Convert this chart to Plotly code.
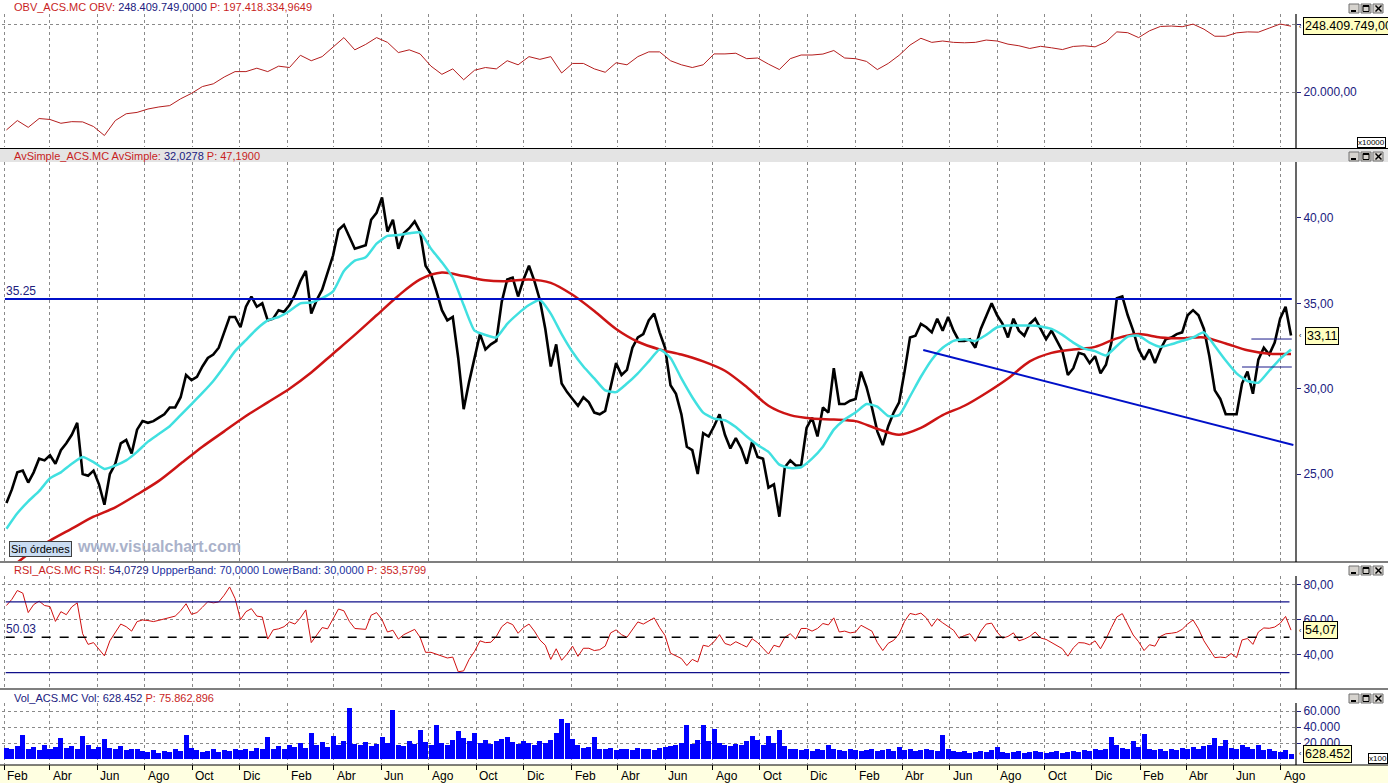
import pandas as pd
import plotly.graph_objects as go

W, H = 1388, 783
FONT = "Liberation Sans, Arial, sans-serif"
NAVY = "#20207e"
RED_TXT = "#c81e1e"

# ---------------- data (weekly sessions) ----------------
START = "2005-02-04"   # first weekly session shown (year not visible on the chart)

CLOSE = [
    23.3, 24.1, 25.1, 25.2, 24.5, 25.1, 25.9, 25.8, 26.1, 25.6,
    26.4, 26.8, 27.3, 28.0, 25.0, 24.9, 25.2, 24.4, 23.2, 25.0,
    25.6, 26.8, 27.0, 26.2, 27.6, 28.1, 28.0, 28.1, 28.3, 28.5,
    28.9, 28.9, 29.5, 30.8, 30.5, 30.7, 31.3, 31.8, 32.0, 32.4,
    33.3, 34.2, 34.2, 33.6, 34.8, 35.4, 34.8, 35.0, 34.0, 34.1,
    34.6, 34.5, 34.9, 35.5, 36.3, 36.9, 34.4, 35.2, 35.8, 36.8,
    37.8, 39.3, 39.6, 38.9, 38.2, 38.3, 38.4, 39.9, 40.3, 41.2,
    39.2, 39.9, 38.2, 39.1, 39.4, 39.8, 39.2, 37.2, 36.7, 35.7,
    34.6, 34.0, 34.2, 31.8, 28.8, 30.4, 31.9, 33.2, 32.3, 32.6,
    32.8, 35.1, 36.4, 36.5, 35.4, 36.4, 37.2, 36.3, 35.2, 33.5,
    31.3, 32.6, 30.3, 29.8, 29.4, 29.0, 29.5, 29.2, 28.6, 28.5,
    28.7, 30.1, 31.5, 30.8, 31.1, 32.4, 33.0, 33.2, 34.0, 34.4,
    33.3, 32.4, 30.2, 29.7, 28.5, 26.6, 26.4, 25.0, 27.4, 27.2,
    27.8, 28.5, 27.3, 26.5, 27.1, 26.5, 25.6, 26.9, 26.0, 25.9,
    24.2, 24.4, 22.5, 25.4, 25.8, 25.5, 25.5, 27.7, 28.3, 27.2,
    28.9, 28.6, 31.2, 29.1, 29.1, 29.3, 29.4, 31.0, 30.1, 28.9,
    27.5, 26.7, 27.8, 28.6, 29.2, 31.0, 33.0, 33.1, 33.8, 33.6,
    33.3, 34.1, 33.4, 34.2, 33.4, 32.8, 32.8, 32.9, 32.4, 33.5,
    34.3, 35.0, 34.3, 33.8, 33.0, 34.1, 33.4, 33.1, 33.8, 34.1,
    33.5, 32.9, 33.4, 32.8, 32.2, 30.8, 31.2, 32.1, 32.0, 31.5,
    31.9, 30.9, 31.4, 32.7, 35.3, 35.4, 34.3, 33.4, 32.3, 31.7,
    32.3, 31.5, 32.3, 32.9, 33.0, 33.2, 33.3, 34.3, 34.6, 34.3,
    33.5, 31.9, 29.9, 29.4, 28.5, 28.5, 28.5, 30.3, 31.0, 29.7,
    31.7, 32.4, 32.0, 32.7, 34.1, 34.8, 33.11,
]

RSI = [
    68, 71.5, 76.5, 75, 64, 68.5, 70.5, 68, 67.4, 59,
    64.5, 62.8, 67.2, 69.5, 52, 46, 47, 43, 39.5, 48,
    52.5, 57.5, 56, 53.5, 58.9, 59.8, 59.5, 58.9, 59.6, 60.3,
    61, 62, 65, 69, 63, 64, 67, 70.2, 69.5, 70,
    73.8, 78.5, 72, 60, 64.5, 66.2, 62, 61.5, 49, 54.2,
    54.8, 56, 58.7, 57.5, 61, 65.5, 47, 51.5, 55.5, 54.8,
    60.8, 66, 65, 59, 55, 54.8, 54.5, 62.5, 64, 60,
    53, 54, 49, 51.5, 53, 54.5, 50, 41.5, 41.5, 40.5,
    39.2, 38.3, 38.8, 30.5, 31, 37.5, 42, 48, 47, 47.2,
    50.5, 56, 58.5, 57.2, 52.3, 55.5, 57.5, 53.5, 48.5, 45.5,
    37.5, 43.5, 37, 40.5, 45, 39.2, 43.8, 43.8, 42.5, 43,
    45, 52.5, 54.2, 51.5, 50, 54.5, 58.7, 57.5, 59.5, 61,
    55.5, 51, 41, 39.5, 38, 34, 37.5, 36, 45.5, 44.8,
    47.5, 51.5, 46.5, 45.5, 47.5, 46, 44.5, 49.2, 47, 43.8,
    40.5, 45.5, 44.5, 50, 52, 49, 55, 55, 53.5, 55,
    57.8, 57, 61, 53, 53.5, 52.5, 53, 56.8, 55.3, 53.5,
    47, 42.5, 46.6, 48.3, 52, 59, 63.5, 62.8, 63.7, 61,
    56.2, 60.5, 58.2, 56, 54, 49.5, 51, 52, 47.7, 53.5,
    57.5, 58, 53, 49.5, 50.5, 52.5, 48, 49, 50.5, 53,
    49.6, 48.8, 47, 45.2, 43.5, 39.3, 44, 47, 46.8, 45.8,
    48, 43.5, 49, 55.5, 61.5, 63.4, 57.5, 51.3, 47.5, 42.5,
    45.8, 45, 50.5, 52, 52.3, 52.8, 54.5, 57.5, 59.8, 54.8,
    48, 43.5, 38.5, 38.8, 38.5, 40.8, 38.5, 48.5, 49.3, 46,
    53, 55.3, 55.1, 55.8, 57.9, 61.8, 54.07,
]

# volume in thousands of axis units (axis is x100 shares)
VOLUME = [
    14, 12, 16, 30, 13, 15, 11, 17, 13, 15,
    26, 14, 16, 12, 29, 17, 13, 15, 25, 14,
    12, 16, 11, 13, 12, 10, 9, 11, 8, 10,
    9, 12, 10, 30, 14, 11, 9, 10, 12, 9,
    11, 10, 13, 11, 12, 10, 14, 12, 27, 13,
    16, 12, 18, 15, 20, 14, 33, 17, 21, 15,
    29, 18, 22, 64, 19, 17, 21, 16, 19, 28,
    20, 61, 18, 16, 22, 19, 36, 21, 17, 42,
    20, 18, 24, 35, 26, 22, 32, 20, 24, 19,
    22, 25, 28, 21, 19, 23, 20, 18, 22, 20,
    24, 32, 50, 45, 25, 17, 14, 15, 28, 13,
    12, 14, 11, 13, 12, 11, 14, 12, 13, 11,
    14, 15, 16, 18, 20, 43, 19, 24, 43, 22,
    37, 20, 18, 16, 19, 17, 22, 29, 24, 18,
    29, 20, 36, 16, 13, 12, 11, 12, 10, 13,
    11, 18, 12, 11, 10, 12, 11, 10, 11, 12,
    10, 11, 12, 10, 15, 11, 12, 10, 11, 12,
    11, 10, 30, 13, 10, 9, 10, 8, 9, 10,
    9, 11, 15, 9, 8, 9, 10, 8, 9, 10,
    9, 8, 9, 10, 8, 9, 10, 9, 11, 10,
    12, 11, 13, 28, 18, 14, 12, 22, 15, 31,
    13, 11, 12, 10, 12, 11, 14, 12, 15, 13,
    16, 18, 26, 16, 24, 14, 13, 18, 15, 12,
    17, 11, 12, 10, 9, 11, 6.3,
]

# OBV every two weeks, in units of 10,000 shares
OBV = [
    17210, 17900, 17400, 18050, 17980, 17700, 17820, 17800, 17460, 16800,
    17900, 18400, 18500, 18750, 18900, 19000, 19500, 19900, 20400, 20600,
    21100, 21500, 21500, 21750, 21500, 21900, 21800, 22700, 22300, 22600,
    23300, 24000, 23100, 23500, 24000, 23650, 22900, 23100, 22800, 21900,
    21300, 21700, 20900, 21600, 21800, 21700, 22300, 22000, 22600, 22400,
    22600, 21400, 22100, 22100, 21700, 21450, 22150, 22000, 22600, 22950,
    22950, 22300, 22000, 21800, 22000, 22800, 22800, 22850, 22450, 22500,
    22050, 21650, 22450, 22720, 22720, 22790, 23050, 22500, 22450, 22250,
    21650, 22100, 22700, 23450, 23950, 23650, 23750, 23650, 23620, 23650,
    23820, 23750, 23520, 23400, 23200, 23360, 23250, 23120, 23350, 23400,
    23320, 23680, 24420, 24360, 24000, 24500, 24820, 24850, 24800, 24990,
    24620, 24100, 24100, 24350, 24420, 24400, 24700, 25000, 24841,
]

# fast simple average (cyan), every two weeks
MA_FAST = [
    21.8, 22.7, 23.4, 24.0, 24.75, 25.1, 25.6, 26.0, 25.7, 25.3,
    25.5, 25.8, 26.3, 26.9, 27.35, 27.8, 28.45, 29.1, 29.75, 30.45,
    31.3, 32.2, 32.85, 33.5, 34.0, 34.2, 34.55, 35.0, 35.05, 35.3,
    35.7, 36.9, 37.5, 37.7, 38.5, 38.95, 39.0, 39.1, 39.15, 38.2,
    37.4, 36.5, 34.9, 33.4, 33.15, 33.0, 33.8, 34.4, 34.9, 35.2,
    34.4, 33.2, 32.15, 31.3, 30.6, 29.9, 29.8, 30.3, 30.9, 31.6,
    32.3, 31.8, 30.6, 29.5, 28.6, 28.25, 28.15, 27.75, 27.2, 26.7,
    26.3, 25.55, 25.35, 25.4, 25.9, 26.6, 27.6, 28.2, 28.6, 29.1,
    28.95, 28.4, 28.45, 29.55, 30.7, 31.7, 32.4, 32.8, 32.9, 32.8,
    33.15, 33.6, 33.7, 33.7, 33.7, 33.65, 33.5, 33.15, 32.7, 32.35,
    32.2, 31.95, 32.5, 33.05, 33.1, 32.7, 32.45, 32.6, 32.8, 33.0,
    33.3, 32.5, 31.65, 30.9, 30.45, 30.35, 31.05, 31.75, 32.3,
]

# slow simple average (red), every four weeks
MA_SLOW = [
    19.3, 20.3, 21.1, 21.8, 22.5, 23.05, 23.8, 24.6, 25.6, 26.6,
    27.5, 28.4, 29.2, 30.0, 30.95, 32.05, 33.15, 34.3, 35.45, 36.4,
    36.8, 36.6, 36.35, 36.3, 36.4, 36.2, 35.5, 34.55, 33.5, 32.75,
    32.3, 32.0, 31.6, 31.05, 30.1, 29.0, 28.45, 28.25, 28.2, 28.1,
    27.65, 27.3, 27.7, 28.45, 29.0, 29.75, 30.6, 31.6, 32.1, 32.3,
    32.45, 32.95, 33.2, 33.0, 32.95, 33.0, 32.65, 32.25, 32.05, 32.03,
]

# drawn lines on the price chart
RESIST_LEVEL = 35.25
RESIST_SPAN = ["2005-02-02", "2009-08-15"]
TREND_DATES = ["2008-04-28", "2009-08-17"]
TREND_PRICES = [32.27, 26.7]
SHORT_LINES = [("2009-06-24", "2009-08-15", 32.91), ("2009-06-12", "2009-08-15", 31.27)]
RSI_SPAN = ["2005-02-03", "2009-08-12"]
RSI_UPPER, RSI_LOWER, RSI_MID = 70, 30, 50.03

MONTHS_ES = {1: "Ene", 2: "Feb", 3: "Mar", 4: "Abr", 5: "May", 6: "Jun",
             7: "Jul", 8: "Ago", 9: "Sep", 10: "Oct", 11: "Nov", 12: "Dic"}

# ---------------- derived series positions ----------------
dates = pd.date_range(START, periods=len(CLOSE), freq="7D")
obv_dates = dates[::2]
fast_dates = dates[::2]
slow_dates = dates[::4]
tick_dates = pd.date_range("2005-02-01", "2009-08-01", freq="2MS")
tick_text = [MONTHS_ES[d.month] for d in tick_dates]


def X(p):
    return p / W


def Y(p):
    return 1 - p / H


t0 = pd.Timestamp(START)
x_range = [t0 + pd.Timedelta(days=-5.72), t0 + pd.Timedelta(days=1658.4)]
xdom = [X(2), X(1296)]

fig = go.Figure()

fig.add_trace(go.Scatter(x=obv_dates, y=OBV, xaxis="x", yaxis="y", mode="lines",
                         line=dict(color="#b41e1e", width=1), hoverinfo="skip"))
fig.add_trace(go.Scatter(x=dates, y=CLOSE, xaxis="x2", yaxis="y2", mode="lines",
                         line=dict(color="black", width=2.6), hoverinfo="skip"))
fig.add_trace(go.Scatter(x=slow_dates, y=MA_SLOW, xaxis="x2", yaxis="y2", mode="lines",
                         line=dict(color="#cc1414", width=2.5, shape="spline", smoothing=0.8),
                         hoverinfo="skip"))
fig.add_trace(go.Scatter(x=fast_dates, y=MA_FAST, xaxis="x2", yaxis="y2", mode="lines",
                         line=dict(color="#40e0e0", width=2.5, shape="spline", smoothing=0.5),
                         hoverinfo="skip"))
fig.add_trace(go.Scatter(x=dates, y=RSI, xaxis="x3", yaxis="y3", mode="lines",
                         line=dict(color="#d01010", width=1), hoverinfo="skip"))
fig.add_trace(go.Bar(x=dates, y=VOLUME, xaxis="x4", yaxis="y4",
                     marker=dict(color="#0000ff", line=dict(width=0)),
                     width=7 * 0.92 * 86400000, hoverinfo="skip"))

panels = {
    "": dict(top=14, bottom=147, rng=[15956, 25735], tv=[20000, 25000],
             tt=["20.000,00", ""], grid=True),
    "2": dict(top=162, bottom=561, rng=[19.906, 43.28], tv=[25, 30, 35, 40],
              tt=["25,00", "30,00", "35,00", "40,00"], grid=False),
    "3": dict(top=576, bottom=688, rng=[21.3, 84.7], tv=[40, 60, 80],
              tt=["40,00", "60,00", "80,00"], grid=True),
    "4": dict(top=703, bottom=764, rng=[-6.25, 70], tv=[20, 40, 60],
              tt=["20.000", "40.000", "60.000"], grid=True),
}

layout = dict(
    width=W, height=H, margin=dict(l=0, r=0, t=0, b=0),
    paper_bgcolor="white", plot_bgcolor="white", showlegend=False,
    font=dict(family=FONT, size=12, color="black"), bargap=0,
    hovermode=False,
)
for s, p in panels.items():
    layout["xaxis" + s] = dict(
        domain=xdom, range=x_range, type="date", anchor="y" + s,
        showgrid=True, gridcolor="#8a8a8a", griddash="dot", gridwidth=1,
        tickvals=tick_dates, showticklabels=False, zeroline=False, showline=False,
        ticks="outside" if s == "4" else "", ticklen=5, tickcolor="black",
        **({} if s == "" else {"matches": "x"}),
    )
    layout["yaxis" + s] = dict(
        domain=[Y(p["bottom"]), Y(p["top"])], range=p["rng"], side="right",
        anchor="x" + s, tickvals=p["tv"], ticktext=p["tt"], ticks="outside",
        ticklen=4, tickcolor=NAVY, tickfont=dict(size=12, color=NAVY, family=FONT),
        showgrid=p["grid"], gridcolor="#8a8a8a", griddash="dot", gridwidth=1,
        zeroline=False, showline=False,
    )
fig.update_layout(**layout)

shapes = []


def prect(x0, y0, x1, y1, fill, line_color=None, lw=0, layer="below"):
    shapes.append(dict(type="rect", xref="paper", yref="paper",
                       x0=X(x0), x1=X(x1), y0=Y(y1), y1=Y(y0),
                       fillcolor=fill, line=dict(color=line_color or fill, width=lw),
                       layer=layer))


def pline(x0, y0, x1, y1, color="black", w=1, layer="above"):
    shapes.append(dict(type="line", xref="paper", yref="paper",
                       x0=X(x0), x1=X(x1), y0=Y(y0), y1=Y(y1),
                       line=dict(color=color, width=w), layer=layer))


# header / axis bands
prect(0, 149, W, 162, "#e4e4e4")
prect(0, 765, W, H, "#ffffe1")

# frame lines
for yy in (148.5, 562, 689, 765):
    pline(0, yy, W, yy, "black", 1.2)
for a, b in ((14, 148.5), (162, 562), (576, 689), (703, 765)):
    pline(1296, a, 1296, b, "black", 1.2)


def buttons(ytop):
    for bx in (1349, 1361, 1373):
        prect(bx, ytop, bx + 10, ytop + 9, "#d6d3ce", "#707070", 1, layer="above")
    pline(1351, ytop + 7, 1356, ytop + 7, "black", 2)
    shapes.append(dict(type="rect", xref="paper", yref="paper",
                       x0=X(1363), x1=X(1369), y0=Y(ytop + 7.5), y1=Y(ytop + 1.5),
                       line=dict(color="black", width=1), fillcolor="rgba(0,0,0,0)",
                       layer="above"))
    pline(1363, ytop + 2, 1369, ytop + 2, "black", 2)
    pline(1375.5, ytop + 1.5, 1381.5, ytop + 7.5, "black", 1.5)
    pline(1375.5, ytop + 7.5, 1381.5, ytop + 1.5, "black", 1.5)


for yt in (4, 152, 566, 694):
    buttons(yt)

# drawn lines on the price chart
shapes.append(dict(type="line", xref="x2", yref="y2", x0=RESIST_SPAN[0], x1=RESIST_SPAN[1],
                   y0=RESIST_LEVEL, y1=RESIST_LEVEL, line=dict(color="#0010c8", width=2),
                   layer="above"))
shapes.append(dict(type="line", xref="x2", yref="y2", x0=TREND_DATES[0], x1=TREND_DATES[1],
                   y0=TREND_PRICES[0], y1=TREND_PRICES[1], line=dict(color="#0010c8", width=2),
                   layer="above"))
for d0, d1, lvl in SHORT_LINES:
    shapes.append(dict(type="line", xref="x2", yref="y2", x0=d0, x1=d1, y0=lvl, y1=lvl,
                       line=dict(color="#1a1a8a", width=1), layer="above"))

# RSI bands
for lvl, col, dash in ((RSI_UPPER, "#10108a", "solid"), (RSI_LOWER, "#10108a", "solid"),
                       (RSI_MID, "black", "dash")):
    shapes.append(dict(type="line", xref="x3", yref="y3", x0=RSI_SPAN[0], x1=RSI_SPAN[1],
                       y0=lvl, y1=lvl, line=dict(color=col, width=1.3, dash=dash),
                       layer="above"))

ann = []


def ptext(x, y, text, size=11, color="black", xanchor="left", **kw):
    ann.append(dict(xref="paper", yref="paper", x=X(x), y=Y(y), text=text,
                    showarrow=False, xanchor=xanchor, yanchor="middle",
                    font=dict(family=FONT, size=size, color=color), **kw))


def span(t, c):
    return f"<span style='color:{c}'>{t}</span>"


ptext(12, 7.5, span("OBV_ACS.MC OBV: ", RED_TXT) + span("248.409.749,0000", NAVY)
      + span(" P: 197.418.334,9649", RED_TXT))
ptext(12, 156, span("AvSimple_ACS.MC AvSimple: ", RED_TXT) + span("32,0278", NAVY)
      + span(" P: 47,1900", RED_TXT))
ptext(12, 569.5, span("RSI_ACS.MC RSI: ", RED_TXT) + span("54,0729", NAVY)
      + span(" UppperBand: 70,0000 LowerBand: 30,0000", "#2030a0")
      + span(" P: 353,5799", RED_TXT))
ptext(12, 697.5, span("Vol_ACS.MC Vol: 628.452", NAVY) + span(" P: 75.862.896", RED_TXT))

ptext(4, 291, "35.25", 12, NAVY)
ptext(4, 629, "50.03", 12, NAVY)

ptext(9, 549, "Sin órdenes", 11, "black", bgcolor="#c9dcf2", bordercolor="#404040",
      borderwidth=1, borderpad=1)
ptext(75, 546.5, "<b>www.visualchart.com</b>", 16, "#aab2ca")

box = dict(bgcolor="#ffffc0", bordercolor="black", borderwidth=1, borderpad=1)
ptext(1303, 26.5, "248.409.749,00", 12.5, "black", **box)
ptext(1305, 335.5, "33,11", 12.5, "black", **box)
ptext(1303, 630, "54,07", 12.5, "black", **box)
ptext(1303, 753.5, "628.452", 12.5, "black", **box)
for yy in (26.5, 335.5, 630, 753.5):
    ptext(1296.5, yy, "‹", 7, "black")

ptext(1357, 142, "x10000", 8, "black", bgcolor="white", bordercolor="black",
      borderwidth=1, borderpad=0)
ptext(1368, 758, "x100", 8, "black", bgcolor="white", bordercolor="black",
      borderwidth=1, borderpad=0)

for d, t in zip(tick_dates, tick_text):
    ann.append(dict(xref="x4", yref="paper", x=d, y=Y(775.5), text=t, showarrow=False,
                    xanchor="left", yanchor="middle", xshift=1,
                    font=dict(family=FONT, size=12, color="black")))

fig.update_layout(shapes=shapes, annotations=ann)
fig.write_html(
    "out.html",
    config={"displayModeBar": False},
    post_script="document.body.style.margin='0';document.body.style.overflow='hidden';",
)
